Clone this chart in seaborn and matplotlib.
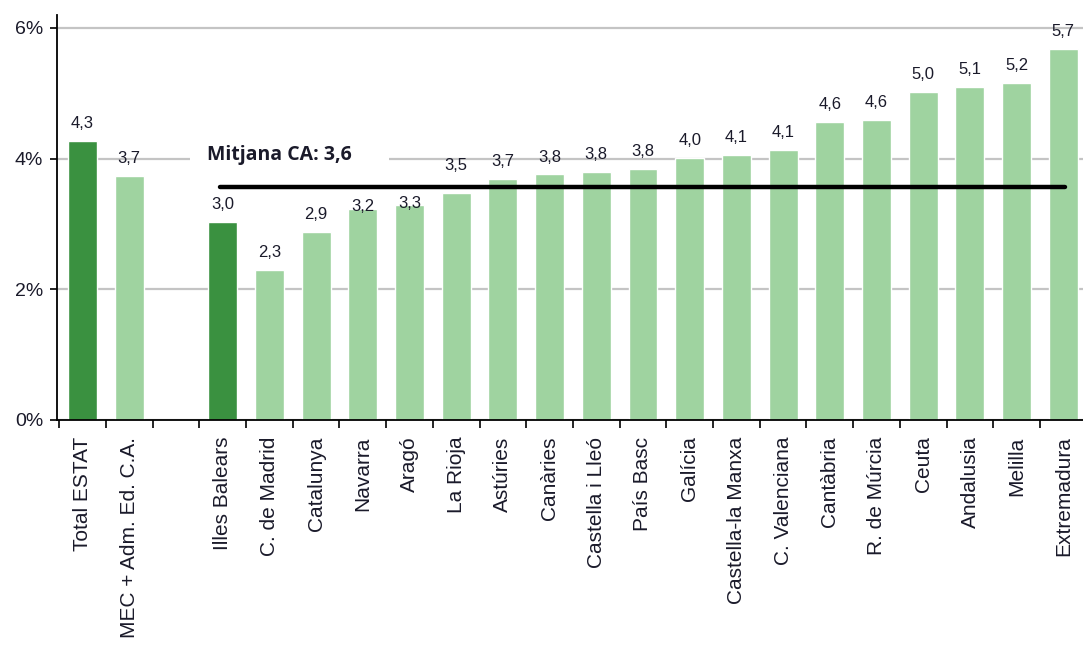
import matplotlib
matplotlib.use("Agg")
import matplotlib.pyplot as plt
import seaborn as sns
import pandas as pd
import numpy as np
from matplotlib.ticker import FixedLocator

categories = ["Total ESTAT", "MEC + Adm. Ed. C.A.", " ", "Illes Balears", "C. de Madrid",
              "Catalunya", "Navarra", "Aragó", "La Rioja", "Astúries", "Canàries",
              "Castella i Lleó", "País Basc", "Galícia", "Castella-la Manxa",
              "C. Valenciana", "Cantàbria", "R. de Múrcia", "Ceuta", "Andalusia",
              "Melilla", "Extremadura"]
values = [4.27, 3.74, np.nan, 3.03, 2.30, 2.88, 3.23, 3.29, 3.48, 3.69, 3.76,
          3.80, 3.84, 4.01, 4.06, 4.13, 4.56, 4.59, 5.02, 5.10, 5.16, 5.68]
groups = ["destacat", "altres", "altres", "destacat"] + ["altres"] * 18
mean_ca = 3.57
mean_label = "Mitjana CA: 3,6"

dark_green = "#3a9140"
light_green = "#9fd3a0"

sns.set_theme(style="white")
plt.rcParams["font.family"] = ["Liberation Sans", "DejaVu Sans"]

df = pd.DataFrame({"cat": categories, "val": values, "grp": groups})

fig = plt.figure(figsize=(10.83, 6.48), dpi=100)
ax = fig.add_axes([0.0526, 0.352, 0.9474, 0.625])

sns.barplot(data=df, x="cat", y="val", hue="grp", order=categories,
            palette={"destacat": dark_green, "altres": light_green},
            width=0.62, dodge=False, legend=False, ax=ax, saturation=1)

def fmt(v):
    if np.isnan(v):
        return ""
    return f"{v:.1f}".replace(".", ",")

# label offsets (points) for labels that Excel moved around the mean line
label_pad = {"Navarra": -4, "Aragó": -4, "La Rioja": 14}

for cont in ax.containers:
    anns = ax.bar_label(cont, fmt=fmt, padding=7, fontsize=12, color="#1a1a2a")
    for patch, ann in zip(cont, anns):
        idx = int(round(patch.get_x() + patch.get_width() / 2))
        if 0 <= idx < len(categories) and categories[idx] in label_pad:
            ann.xyann = (0, label_pad[categories[idx]])

ax.set_xlim(-0.546, 21.42)
ax.set_ylim(0, 6.2)
ax.set_yticks([0, 2, 4, 6])
ax.set_yticklabels(["0%", "2%", "4%", "6%"], fontsize=14, color="#1a1a2a")
ax.yaxis.grid(True, color="#c4c4c4", linewidth=1.6)
ax.set_axisbelow(True)

ax.set_xlabel("")
ax.set_ylabel("")
ax.set_xticks(range(len(categories)))
ax.set_xticklabels(categories, rotation=90, fontsize=15, color="#1a1a2a")
ax.tick_params(axis="x", which="major", length=0, pad=12)
ax.xaxis.set_minor_locator(FixedLocator(np.arange(-0.5, len(categories), 1.0)))
ax.tick_params(axis="x", which="minor", length=6, width=1.2, color="black", direction="out", bottom=True)
ax.tick_params(axis="y", which="major", length=5, width=1.2, color="black", direction="out", left=True, pad=5)

for s in ["top", "right"]:
    ax.spines[s].set_visible(False)
for s in ["left", "bottom"]:
    ax.spines[s].set_color("black")
    ax.spines[s].set_linewidth(1.3)

ax.plot([2.94, 21.03], [mean_ca, mean_ca], color="black", linewidth=3.2,
        solid_capstyle="round", zorder=5)
ax.text(2.67, 4.06, mean_label + "    ", fontsize=14, fontweight="bold",
        family=["Open Sans", "DejaVu Sans"],
        ha="left", va="center", color="#1a1a2a",
        bbox=dict(facecolor="white", edgecolor="none", pad=12), zorder=4)

fig.savefig("out.png", dpi=100)
